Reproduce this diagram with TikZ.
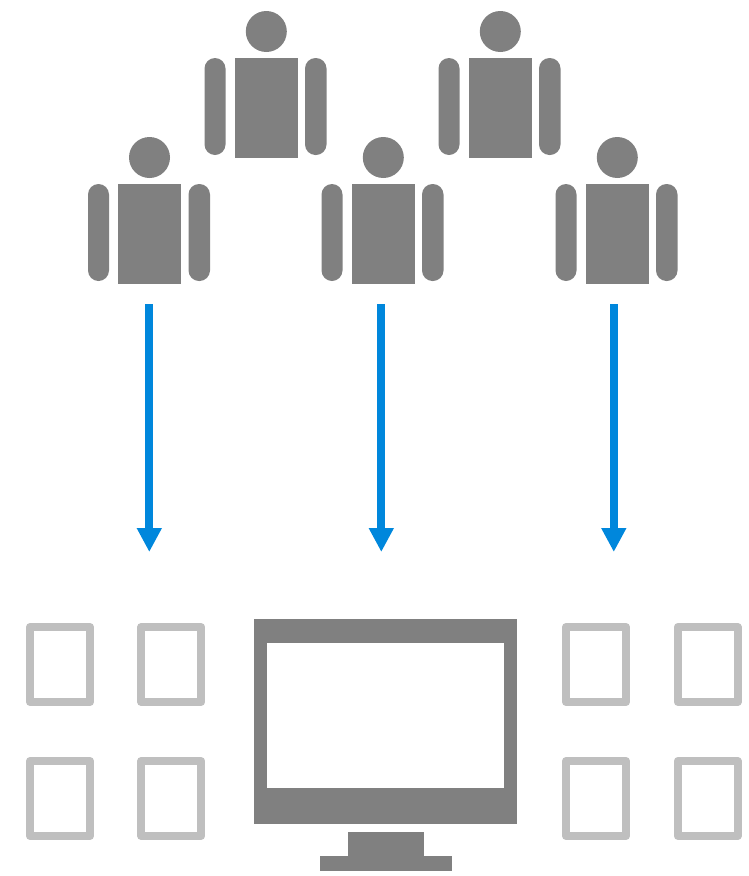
\documentclass[tikz,border=0pt]{standalone}
\usepackage{tikz}
\usetikzlibrary{calc}
\usetikzlibrary{arrows.meta}
\definecolor{figgray}{HTML}{808080}
\definecolor{framegray}{HTML}{BFBFBF}
\definecolor{flowblue}{HTML}{0087DC}
\tikzset{
    figure/.style={fill=figgray},
    limb/.style={fill=figgray,rounded corners=10.5pt},
    tablet/.style={draw=framegray,line width=8pt,line join=round},
    flow/.style={draw=flowblue,line width=8pt,-{Triangle[length=24pt,width=23.5pt]}}
}

\begin{document}
\begin{tikzpicture}[x=1pt,y=-1pt]
            \useasboundingbox (0,0) rectangle (749,876);
            \coordinate (P1) at (149.5,184);
            \coordinate (P2) at (266.5,58);
            \coordinate (P3) at (383.5,184);
            \coordinate (P4) at (500.5,58);
            \coordinate (P5) at (617.5,184);
            \coordinate (S1) at (149.3,304);
            \coordinate (E1) at (149.3,552);
            \coordinate (S2) at (381.3,304);
            \coordinate (E2) at (381.3,552);
            \coordinate (S3) at (613.8,304);
            \coordinate (E3) at (613.8,552);
            \fill[figure] ($(P1)+(0,-26.5)$) circle (20.5);
            \fill[figure] ($(P1)+(-31.5,0)$) rectangle ($(P1)+(31.5,100)$);
            \fill[limb] ($(P1)+(-61.5,0)$) rectangle ($(P1)+(-40.5,97)$);
            \fill[limb] ($(P1)+(39,0)$) rectangle ($(P1)+(60.5,97)$);
            \fill[figure] ($(P2)+(-0.2,-26.5)$) circle (20.5);
            \fill[figure] ($(P2)+(-31.5,0)$) rectangle ($(P2)+(31.5,100)$);
            \fill[limb] ($(P2)+(-62,0)$) rectangle ($(P2)+(-41,97)$);
            \fill[limb] ($(P2)+(38.5,0)$) rectangle ($(P2)+(60,97)$);
            \fill[figure] ($(P3)+(-0.2,-26.5)$) circle (20.5);
            \fill[figure] ($(P3)+(-31.5,0)$) rectangle ($(P3)+(31.5,100)$);
            \fill[limb] ($(P3)+(-62,0)$) rectangle ($(P3)+(-41,97)$);
            \fill[limb] ($(P3)+(38.5,0)$) rectangle ($(P3)+(60,97)$);
            \fill[figure] ($(P4)+(-0.2,-26.5)$) circle (20.5);
            \fill[figure] ($(P4)+(-31.5,0)$) rectangle ($(P4)+(31.5,100)$);
            \fill[limb] ($(P4)+(-62,0)$) rectangle ($(P4)+(-41,97)$);
            \fill[limb] ($(P4)+(38.5,0)$) rectangle ($(P4)+(60,97)$);
            \fill[figure] ($(P5)+(-0.2,-26.5)$) circle (20.5);
            \fill[figure] ($(P5)+(-31.5,0)$) rectangle ($(P5)+(31.5,100)$);
            \fill[limb] ($(P5)+(-62,0)$) rectangle ($(P5)+(-41,97)$);
            \fill[limb] ($(P5)+(38.5,0)$) rectangle ($(P5)+(60,97)$);
            \draw[flow] (S1) -- (E1);
            \draw[flow] (S2) -- (E2);
            \draw[flow] (S3) -- (E3);
            \draw[tablet] (30,627) rectangle (90,702);
            \draw[tablet] (141.3,627) rectangle (201.3,702);
            \draw[tablet] (30,761) rectangle (90,836);
            \draw[tablet] (141.3,761) rectangle (201.3,836);
            \draw[tablet] (566,627) rectangle (626,702);
            \draw[tablet] (677.7,627) rectangle (737.7,702);
            \draw[tablet] (566,761) rectangle (626,836);
            \draw[tablet] (677.7,761) rectangle (737.7,836);
            \fill[figure] (254,619) rectangle (517,824);
            \fill[white] (267,643) rectangle (504,788);
            \fill[figure] (348,832) rectangle (424,856);
            \fill[figure] (320,856) rectangle (452,871);
        \end{tikzpicture}
\end{document}
